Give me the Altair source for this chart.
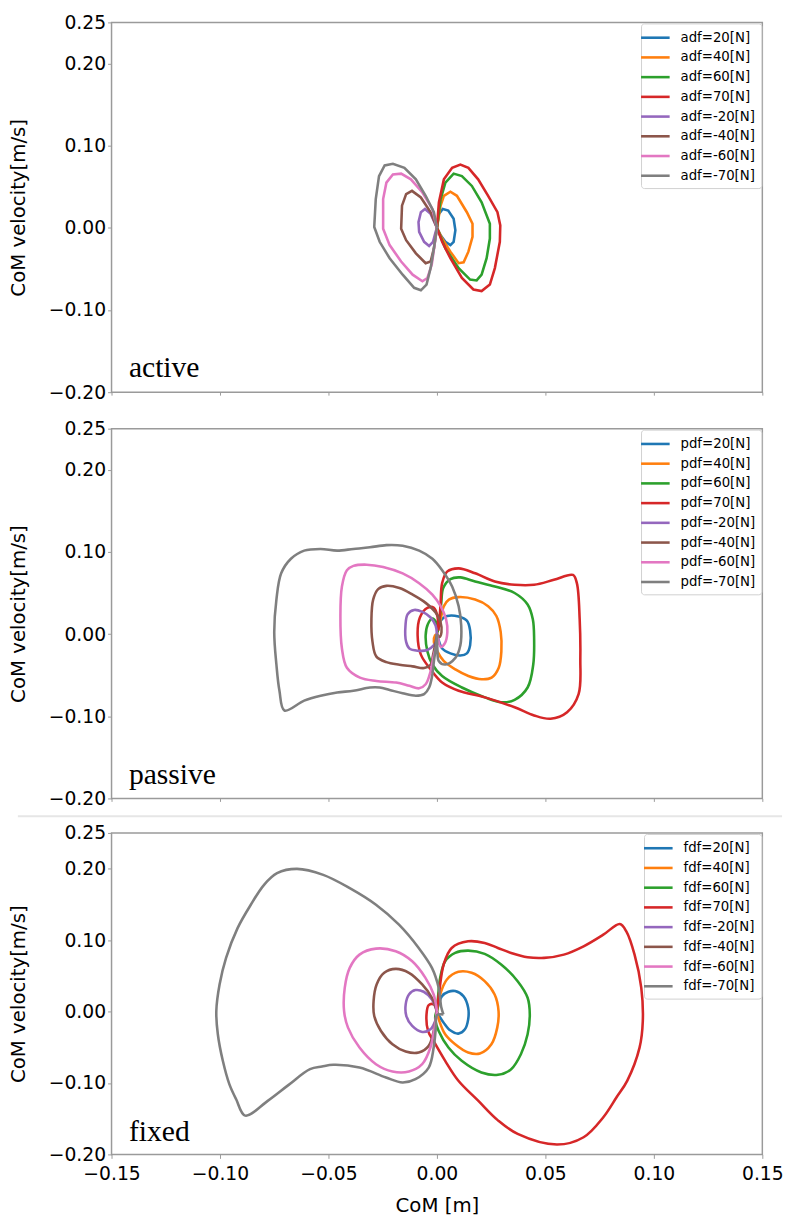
import altair as alt
import pandas as pd

X_TICKS = [-0.15, -0.10, -0.05, 0.0, 0.05, 0.10, 0.15]
Y_TICKS = [-0.20, -0.10, 0.0, 0.10, 0.20, 0.25]
FORCES = ["20", "40", "60", "70", "-20", "-40", "-60", "-70"]
COLORS = ["#1f77b4", "#ff7f0e", "#2ca02c", "#d62728",
          "#9467bd", "#8c564b", "#e377c2", "#7f7f7f"]
PANEL_NAMES = ["active", "passive", "fixed"]
PANEL_PREFIX = ["adf", "pdf", "fdf"]
PANEL_LABEL_X = [-0.142, -0.142, -0.142]
PANEL_LABEL_Y = [-0.181, -0.183, -0.181]

# ---------------- active ----------------
A20 = [(0, 0), (0.0009, 0.017), (0.0027, 0.023), (0.0052, 0.021), (0.0077, 0.011),
       (0.0085, -0.003), (0.0077, -0.017), (0.0062, -0.021), (0.0039, -0.017),
       (0.0017, -0.009), (0, 0)]
A40 = [(0, 0), (0.0017, 0.027), (0.0032, 0.039), (0.0062, 0.044), (0.0092, 0.039),
       (0.0138, 0.019), (0.0164, 0.005), (0.0164, -0.011), (0.0145, -0.029),
       (0.0123, -0.042), (0.010, -0.043), (0.0062, -0.029), (0.0024, -0.013), (0, 0)]
A60 = [(0, 0), (0.0017, 0.035), (0.0039, 0.055), (0.0077, 0.066), (0.0115, 0.063),
       (0.0161, 0.051), (0.0206, 0.031), (0.0244, 0.005), (0.0244, -0.013),
       (0.0229, -0.037), (0.0206, -0.057), (0.0183, -0.064), (0.0153, -0.063),
       (0.010, -0.049), (0.0039, -0.025), (0, 0)]
A70 = [(0, 0), (0.0009, 0.031), (0.0032, 0.059), (0.007, 0.073), (0.0108, 0.077),
       (0.0145, 0.073), (0.019, 0.059), (0.0236, 0.039), (0.0279, 0.019),
       (0.0292, 0.003), (0.029, -0.017), (0.0267, -0.049), (0.0244, -0.069),
       (0.0206, -0.077), (0.0168, -0.075), (0.0115, -0.061), (0.0062, -0.037),
       (0.0024, -0.017), (0, 0)]
AM20 = [(0, 0), (-0.0029, 0.017), (-0.0055, 0.023), (-0.0074, 0.019), (-0.0085, 0.007),
        (-0.0082, -0.005), (-0.0059, -0.017), (-0.0036, -0.022), (-0.0018, -0.017),
        (-0.0006, -0.005), (0, 0)]
AM40 = [(0, 0), (-0.0029, 0.019), (-0.0074, 0.037), (-0.0115, 0.045), (-0.0142, 0.041),
        (-0.0161, 0.027), (-0.0165, -0.001), (-0.0142, -0.015), (-0.0097, -0.031),
        (-0.0052, -0.043), (-0.0029, -0.041), (-0.0014, -0.025), (0, 0)]
AM60 = [(0, 0), (-0.0021, 0.023), (-0.0067, 0.043), (-0.012, 0.059), (-0.0165, 0.066),
        (-0.0203, 0.065), (-0.0233, 0.055), (-0.0248, 0.035), (-0.0248, -0.001),
        (-0.0218, -0.021), (-0.0165, -0.041), (-0.0112, -0.057), (-0.0067, -0.065),
        (-0.0044, -0.061), (-0.0024, -0.045), (-0.0011, -0.021), (0, 0)]
AM70 = [(0, 0), (-0.0014, 0.019), (-0.0052, 0.039), (-0.0097, 0.059), (-0.015, 0.073),
        (-0.0203, 0.078), (-0.0241, 0.076), (-0.0267, 0.063), (-0.0282, 0.035),
        (-0.0289, 0.001), (-0.0264, -0.017), (-0.0218, -0.037), (-0.0158, -0.057),
        (-0.0105, -0.073), (-0.0074, -0.076), (-0.0048, -0.069), (-0.0029, -0.049),
        (-0.0014, -0.025), (-0.0003, -0.005), (0, 0)]

# ---------------- passive ----------------
P20 = [(0, 0), (0.0017, 0.0163), (0.0047, 0.022), (0.010, 0.0214), (0.0138, 0.0163),
       (0.0153, 0.0044), (0.0153, -0.0135), (0.0138, -0.0234), (0.0108, -0.026),
       (0.0062, -0.0234), (0.0024, -0.0175), (0.0006, -0.0056), (0, 0)]
P40 = [(0, 0), (0.0017, 0.018), (0.0032, 0.034), (0.0055, 0.042), (0.010, 0.045),
       (0.0176, 0.042), (0.0236, 0.034), (0.0274, 0.022), (0.0294, 0.0024),
       (0.0297, -0.021), (0.0285, -0.041), (0.0252, -0.053), (0.0206, -0.055),
       (0.0145, -0.051), (0.0085, -0.043), (0.0032, -0.033), (0.0002, -0.021),
       (-0.0014, -0.0095), (-0.0009, -0.0016), (0, 0)]
P60 = [(0.0003, 0.0024), (0.0012, 0.018), (0.002, 0.038), (0.0029, 0.056),
       (0.0062, 0.067), (0.0108, 0.069), (0.0176, 0.064), (0.0267, 0.058),
       (0.0358, 0.050), (0.0418, 0.036), (0.0442, 0.018), (0.0448, -0.0056),
       (0.0444, -0.037), (0.0418, -0.065), (0.0358, -0.080), (0.0297, -0.083),
       (0.0221, -0.077), (0.0115, -0.065), (0.0024, -0.051), (-0.0021, -0.037),
       (-0.0044, -0.021), (-0.0052, -0.0016), (-0.0042, 0.012), (-0.0021, 0.019),
       (-0.0003, 0.014), (0.0003, 0.004)]
P70 = [(0.0006, 0.0044), (0.0012, 0.018), (0.0017, 0.038), (0.0024, 0.062),
       (0.0047, 0.076), (0.010, 0.080), (0.0176, 0.074), (0.0267, 0.064),
       (0.0358, 0.060), (0.0448, 0.060), (0.0539, 0.066), (0.0627, 0.072),
       (0.0645, 0.062), (0.0658, 0.018), (0.0661, -0.029), (0.0653, -0.073),
       (0.060, -0.095), (0.0524, -0.103), (0.0448, -0.099), (0.0358, -0.089),
       (0.0221, -0.077), (0.010, -0.069), (0.0024, -0.059), (-0.0029, -0.043),
       (-0.0074, -0.025), (-0.0089, -0.0016), (-0.0079, 0.020), (-0.0044, 0.032),
       (-0.0014, 0.032), (0.0002, 0.022), (0.0005, 0.006)]
PM20 = [(0, 0), (-0.0006, 0.0103), (-0.0029, 0.0202), (-0.0067, 0.027), (-0.0105, 0.0294),
        (-0.0135, 0.0242), (-0.0145, 0.0103), (-0.0142, -0.0095), (-0.0127, -0.0175),
        (-0.0089, -0.0202), (-0.0044, -0.0194), (-0.0014, -0.0135), (0.0002, -0.0056),
        (0, 0)]
PM40 = [(0, 0), (-0.0006, -0.0095), (-0.0018, -0.0254), (-0.0029, -0.0373),
        (-0.0059, -0.0413), (-0.0112, -0.0393), (-0.0173, -0.0373), (-0.0233, -0.0341),
        (-0.0279, -0.0274), (-0.0297, -0.0095), (-0.0302, 0.0183), (-0.0294, 0.042),
        (-0.0271, 0.0548), (-0.0233, 0.0587), (-0.0173, 0.056), (-0.0112, 0.048),
        (-0.0052, 0.038), (-0.0006, 0.0262), (0.0017, 0.0139), (0.0021, 0.0024),
        (0.0012, -0.0036), (0, 0)]
PM60 = [(0, 0), (0.0002, -0.0095), (-0.0014, -0.0254), (-0.0029, -0.045),
        (-0.0052, -0.061), (-0.0082, -0.066), (-0.0127, -0.063), (-0.0188, -0.059),
        (-0.0279, -0.057), (-0.0355, -0.053), (-0.0415, -0.041), (-0.0438, -0.0175),
        (-0.0445, 0.022), (-0.0438, 0.058), (-0.0415, 0.0778), (-0.0385, 0.083),
        (-0.0324, 0.0845), (-0.0248, 0.0817), (-0.0158, 0.0738), (-0.0082, 0.0619),
        (-0.0021, 0.048), (0.0017, 0.034), (0.0042, 0.0183), (0.0048, 0.0024),
        (0.0036, -0.0115), (0.0017, -0.0155), (0.0006, -0.0056)]
PM70 = [(0, 0), (0.0002, -0.0175), (0.0009, -0.033), (0.0039, -0.037), (0.0085, -0.029),
        (0.0108, -0.0135), (0.0112, 0.0103), (0.010, 0.034), (0.007, 0.058),
        (0.0024, 0.0778), (-0.0021, 0.0917), (-0.0082, 0.1016), (-0.0158, 0.1075),
        (-0.0233, 0.1083), (-0.0309, 0.1056), (-0.0385, 0.1036), (-0.046, 0.1016),
        (-0.0536, 0.1036), (-0.0612, 0.1016), (-0.0673, 0.0917), (-0.0718, 0.074),
        (-0.074, 0.042), (-0.075, 0.0024), (-0.074, -0.037), (-0.0726, -0.069),
        (-0.0703, -0.093), (-0.0612, -0.081), (-0.0536, -0.075), (-0.046, -0.071),
        (-0.0385, -0.069), (-0.0309, -0.065), (-0.0264, -0.065), (-0.0218, -0.068),
        (-0.0158, -0.072), (-0.0097, -0.075), (-0.0059, -0.073), (-0.0036, -0.065),
        (-0.0021, -0.049), (-0.0014, -0.033), (-0.0006, -0.0175), (0, 0)]

# ---------------- fixed ----------------
F20 = [(0, 0), (0.0023, 0.0216), (0.0053, 0.0277), (0.0084, 0.0286), (0.0122, 0.0216),
       (0.0144, 0.0053), (0.0144, -0.0109), (0.0129, -0.0249), (0.0099, -0.0309),
       (0.0061, -0.0263), (0.0031, -0.0156), (0.0011, -0.0063), (0, 0)]
F40 = [(0, 0), (0.0015, 0.0239), (0.0046, 0.0449), (0.0099, 0.0556), (0.016, 0.0542),
       (0.022, 0.0425), (0.0266, 0.0239), (0.0284, 0.0007), (0.0278, -0.0225),
       (0.0251, -0.0458), (0.0198, -0.0588), (0.0144, -0.0574), (0.0084, -0.0458),
       (0.0038, -0.0318), (0.0011, -0.0132), (0, 0)]
F60 = [(0, 0), (0.0005, 0.02), (0.0015, 0.0472), (0.0038, 0.0704), (0.0084, 0.0821),
       (0.0144, 0.0853), (0.022, 0.0807), (0.0296, 0.0658), (0.0372, 0.0425),
       (0.0418, 0.0193), (0.0428, -0.004), (0.0418, -0.0318), (0.0387, -0.0597),
       (0.0342, -0.0807), (0.0281, -0.0886), (0.0205, -0.0853), (0.0114, -0.069),
       (0.0053, -0.0504), (0.0008, -0.0272), (-0.0007, -0.0132), (-0.0004, -0.0016),
       (0, 0)]
F70 = [(0, 0.003), (0.0005, 0.015), (0.0011, 0.0286), (0.0031, 0.0658), (0.0068, 0.089),
       (0.0144, 0.0983), (0.022, 0.096), (0.0281, 0.089), (0.0342, 0.082),
       (0.0418, 0.076), (0.0494, 0.0751), (0.0585, 0.0797), (0.0676, 0.0913),
       (0.0767, 0.1076), (0.0843, 0.1225), (0.0873, 0.1122), (0.0911, 0.0797),
       (0.0942, 0.0332), (0.0949, -0.0132), (0.0934, -0.0505), (0.0877, -0.097),
       (0.0828, -0.12), (0.0767, -0.148), (0.0676, -0.176), (0.0554, -0.1862),
       (0.0372, -0.1713), (0.028, -0.152), (0.019, -0.1248), (0.0099, -0.0969),
       (0.0038, -0.069), (-0.0012, -0.043), (-0.0041, -0.027), (-0.0048, -0.004),
       (-0.0038, 0.009), (-0.0015, 0.010), (0, 0.003)]
FM20 = [(0, 0), (-0.0023, 0.017), (-0.0061, 0.0277), (-0.0099, 0.030), (-0.0129, 0.0239),
        (-0.0144, 0.010), (-0.0141, -0.0063), (-0.0114, -0.0202), (-0.0068, -0.0286),
        (-0.003, -0.0249), (-0.0008, -0.0132), (0, 0)]
FM40 = [(0, 0), (-0.0023, 0.0193), (-0.0068, 0.0379), (-0.0129, 0.0542), (-0.019, 0.0597),
        (-0.0243, 0.0542), (-0.0278, 0.0379), (-0.0292, 0.0146), (-0.0289, -0.0063),
        (-0.0258, -0.0272), (-0.0205, -0.0458), (-0.0144, -0.056), (-0.0084, -0.0574),
        (-0.0038, -0.0481), (-0.0015, -0.0272), (-0.0005, -0.0086), (0, 0)]
FM60 = [(0, 0), (-0.0015, 0.0239), (-0.0053, 0.0472), (-0.0114, 0.0704), (-0.019, 0.0844),
        (-0.0281, 0.0881), (-0.0357, 0.0797), (-0.0402, 0.0611), (-0.0425, 0.0332),
        (-0.0428, 0.0007), (-0.041, -0.0225), (-0.0357, -0.0504), (-0.0281, -0.0737),
        (-0.0205, -0.0839), (-0.0129, -0.0839), (-0.0068, -0.0737), (-0.003, -0.0504),
        (-0.0011, -0.0225), (0, 0)]
FM70 = [(0.003, -0.004), (0.002, 0.006), (0.0008, 0.0333), (-0.0023, 0.0611),
        (-0.0084, 0.089), (-0.0175, 0.1216), (-0.0281, 0.1495), (-0.0402, 0.1727),
        (-0.0524, 0.1913), (-0.0645, 0.1997), (-0.0737, 0.1937), (-0.0797, 0.1774),
        (-0.0858, 0.1495), (-0.0919, 0.1168), (-0.0972, 0.0751), (-0.1002, 0.0379),
        (-0.1017, 0.0007), (-0.101, -0.0318), (-0.0987, -0.069), (-0.0957, -0.1016),
        (-0.0926, -0.1225), (-0.0884, -0.1457), (-0.078, -0.125), (-0.0685, -0.103),
        (-0.0585, -0.0807), (-0.053, -0.077), (-0.0478, -0.0746), (-0.0357, -0.0784),
        (-0.0235, -0.0923), (-0.0159, -0.0993), (-0.0099, -0.0946), (-0.0038, -0.0784),
        (-0.0015, -0.0504), (-0.0005, -0.0225), (0, -0.005), (0.003, -0.004)]

ACTIVE = [A20, A40, A60, A70, AM20, AM40, AM60, AM70]
PASSIVE = [P20, P40, P60, P70, PM20, PM40, PM60, PM70]
FIXED = [F20, F40, F60, F70, FM20, FM40, FM60, FM70]

FONT = "DejaVu Sans"
LEGEND_LINE = "M-2.07,0H2.07"


def make_panel(k, curves, height, interp, bottom):
    labels = [f"{PANEL_PREFIX[k]}={f}[N]" for f in FORCES]
    rows = []
    for lab, pts in zip(labels, curves):
        for i, (x, y) in enumerate(pts):
            rows.append({"x": x, "y": y, "series": lab, "i": i})
    df = pd.DataFrame(rows)

    if bottom:
        xaxis = alt.Axis(values=X_TICKS, format=".2f", tickSize=4, labelPadding=6,
                         labelFlush=False, title="CoM [m]", titlePadding=13)
    else:
        xaxis = alt.Axis(values=X_TICKS, labels=False, tickSize=3, title=None)
    yaxis = alt.Axis(values=Y_TICKS, format=".2f", tickSize=4, labelPadding=2,
                     title="CoM velocity[m/s]", titlePadding=20)
    xenc = alt.X("x:Q", scale=alt.Scale(domain=[-0.15, 0.15], nice=False, zero=False), axis=xaxis)
    yenc = alt.Y("y:Q", scale=alt.Scale(domain=[-0.2, 0.25], nice=False, zero=False), axis=yaxis)

    lines = alt.Chart(df).mark_line(strokeWidth=2.6, interpolate=interp).encode(
        x=xenc,
        y=yenc,
        color=alt.Color(
            "series:N",
            sort=labels,
            scale=alt.Scale(domain=labels, range=COLORS),
            legend=alt.Legend(
                title=None, orient="top-right", offset=1,
                symbolType=LEGEND_LINE, symbolSize=196, symbolStrokeWidth=2.6,
                labelFont=FONT, labelFontSize=13.5, labelOffset=17,
                rowPadding=5, padding=6, fillColor="white",
                strokeColor="#d0d0d0", cornerRadius=3,
            ),
        ),
        order="i:Q",
    )
    tdf = pd.DataFrame({"x": [PANEL_LABEL_X[k]], "y": [PANEL_LABEL_Y[k]], "t": [PANEL_NAMES[k]]})
    text = alt.Chart(tdf).mark_text(
        font="Liberation Serif", fontSize=30, align="left", baseline="alphabetic", color="black"
    ).encode(x=xenc, y=yenc, text="t:N")
    layers = [lines, text]
    if bottom:
        sep = alt.Chart(tdf).mark_rule(color="#e6e6e6", strokeWidth=2).encode(
            x=alt.value(-95), x2=alt.value(680), y=alt.value(-17)
        )
        layers.append(sep)
    return alt.layer(*layers).properties(width=660, height=height)


p1 = make_panel(0, ACTIVE, 375, "linear", False)
p2 = make_panel(1, PASSIVE, 375, "catmull-rom", False)
p3 = make_panel(2, FIXED, 326, "catmull-rom", True)

upper = alt.vconcat(p1, p2, spacing=16).resolve_scale(color="independent")
chart = (
    alt.vconcat(upper, p3, spacing=5)
    .resolve_scale(color="independent")
    .properties(padding={"left": 0, "top": -4, "right": 2, "bottom": 2}, background="white")
    .configure_view(stroke="#9a9a9a", strokeWidth=1.5)
    .configure_axis(
        grid=False, domain=False, tickColor="#9a9a9a", labelColor="black", titleColor="black",
        labelFont=FONT, titleFont=FONT, labelFontSize=19, titleFontSize=20,
        titleFontWeight="normal",
    )
)

chart.save("out.html", embed_options={"renderer": "svg", "actions": False})
